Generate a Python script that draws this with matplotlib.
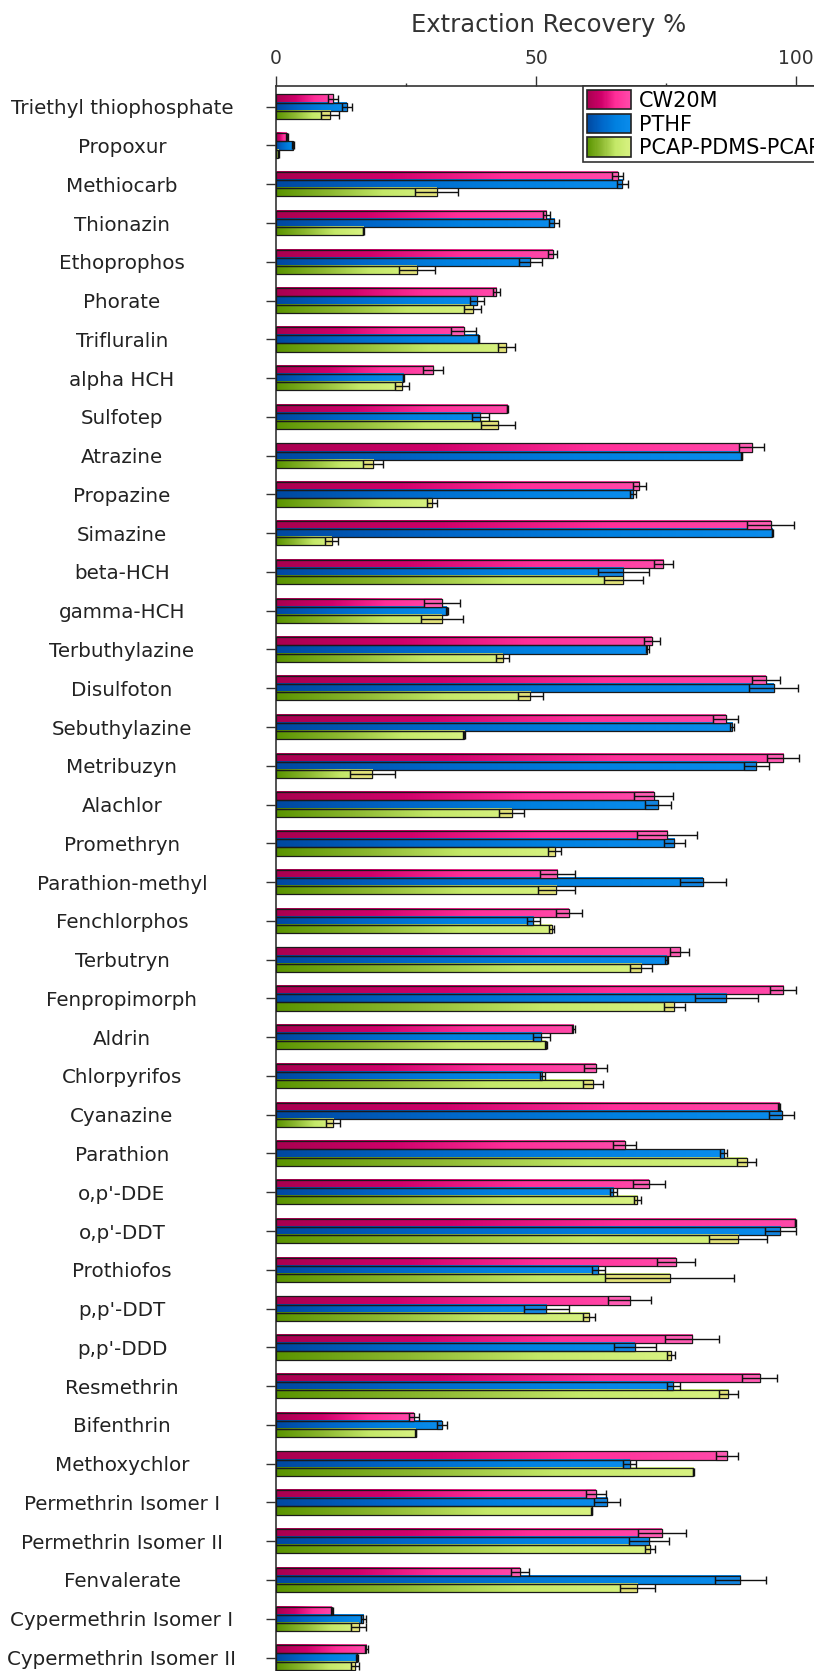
import numpy as np
import matplotlib
matplotlib.use('Agg')
import matplotlib.pyplot as plt
from matplotlib.colors import LinearSegmentedColormap
from matplotlib.patches import Rectangle
from matplotlib.legend_handler import HandlerBase

# recovery data (mean %, error %) for the three fibre coatings
compounds = ["Triethyl thiophosphate", "Propoxur", "Methiocarb", "Thionazin", "Ethoprophos",
             "Phorate", "Trifluralin", "alpha HCH", "Sulfotep", "Atrazine", "Propazine",
             "Simazine", "beta-HCH", "gamma-HCH", "Terbuthylazine", "Disulfoton",
             "Sebuthylazine", "Metribuzyn", "Alachlor", "Promethryn", "Parathion-methyl",
             "Fenchlorphos", "Terbutryn", "Fenpropimorph", "Aldrin", "Chlorpyrifos",
             "Cyanazine", "Parathion", "o,p'-DDE", "o,p'-DDT", "Prothiofos", "p,p'-DDT",
             "p,p'-DDD", "Resmethrin", "Bifenthrin", "Methoxychlor", "Permethrin Isomer I",
             "Permethrin Isomer II", "Fenvalerate", "Cypermethrin Isomer I",
             "Cypermethrin Isomer II"]

cw20m = [11.0, 2.05, 65.7, 52.0, 53.2, 42.4, 36.1, 30.2, 44.5, 91.5, 69.9, 95.1, 74.5, 31.9,
         72.3, 94.2, 86.5, 97.5, 72.6, 75.2, 54.1, 56.3, 77.6, 97.5, 57.2, 61.5, 96.8, 67.1,
         71.7, 99.9, 76.9, 68.0, 80.0, 93.0, 26.5, 86.8, 61.5, 74.2, 46.9, 10.7, 17.4]
cw20m_err = [1.0, 0.2, 1.0, 0.7, 0.8, 0.7, 2.4, 1.9, 0.1, 2.4, 1.2, 4.6, 1.8, 3.4,
             1.6, 2.7, 2.4, 3.1, 3.8, 5.8, 3.4, 2.5, 1.8, 2.5, 0.3, 2.2, 0.2, 2.2,
             3.1, 0.1, 3.7, 4.1, 5.2, 3.3, 1.0, 2.1, 1.9, 4.6, 1.7, 0.2, 0.3]

pthf = [13.6, 3.3, 66.6, 53.5, 48.9, 38.7, 39.0, 24.5, 39.3, 89.6, 68.7, 95.4, 66.8, 32.8,
        71.4, 95.7, 87.7, 92.4, 73.5, 76.6, 82.1, 49.5, 75.1, 86.6, 51.0, 51.2, 97.3, 86.1,
        64.9, 97.0, 62.0, 52.0, 69.0, 76.4, 31.9, 68.0, 63.7, 71.7, 89.3, 16.8, 15.5]
pthf_err = [1.0, 0.2, 1.0, 1.0, 2.2, 1.3, 0.1, 0.1, 1.6, 0.1, 0.6, 0.1, 4.9, 0.2,
            0.3, 4.7, 0.3, 2.4, 2.5, 2.0, 4.4, 1.3, 0.3, 6.1, 1.6, 0.5, 2.4, 0.7,
            0.7, 3.0, 1.2, 4.3, 4.0, 1.2, 1.0, 1.3, 2.5, 3.8, 4.9, 0.5, 0.2]

pcap = [10.4, 0.4, 30.9, 16.8, 27.1, 37.8, 44.3, 24.2, 42.7, 18.7, 30.0, 10.7, 66.8, 31.9,
        43.6, 48.9, 36.2, 18.5, 45.3, 53.6, 53.9, 53.0, 70.2, 76.6, 51.9, 60.9, 11.0, 90.5,
        69.5, 88.9, 75.7, 60.2, 76.0, 87.0, 26.9, 80.2, 60.7, 71.9, 69.5, 15.9, 15.2]
pcap_err = [1.8, 0.1, 4.1, 0.1, 3.4, 1.6, 1.6, 1.4, 3.2, 1.9, 1.0, 1.3, 3.8, 4.1,
            1.3, 2.4, 0.2, 4.3, 2.4, 1.2, 3.6, 0.5, 2.2, 2.0, 0.2, 1.9, 1.3, 1.9,
            0.7, 5.6, 12.4, 1.2, 0.8, 1.9, 0.1, 0.1, 0.1, 1.0, 3.4, 1.4, 0.8]

series_names = ['CW20M', 'PTHF', 'PCAP-PDMS-PCAP']

# left-to-right shading of each bar, and the lighter fill of the error box
cmaps = [LinearSegmentedColormap.from_list('pink', ['#a8004f', '#d0006a', '#ff2e98', '#ff4aaa']),
         LinearSegmentedColormap.from_list('blue', ['#0048a0', '#0066c8', '#0080e0', '#0a8cec']),
         LinearSegmentedColormap.from_list('green', ['#5a9400', '#8cb830', '#c4e868', '#d8f282'])]
box_colors = ['#ff5cb4', '#1284e0', '#e2e27a']


class GradientHandler(HandlerBase):
    def __init__(self, cmap):
        super().__init__()
        self.cmap = cmap

    def create_artists(self, legend, orig_handle, xdescent, ydescent,
                       width, height, fontsize, trans):
        n = 40
        arts = []
        for i in range(n):
            r = Rectangle((-xdescent + i * width / n, -ydescent), width / n + 0.3, height,
                          facecolor=self.cmap(i / (n - 1)), edgecolor='none', transform=trans)
            arts.append(r)
        arts.append(Rectangle((-xdescent, -ydescent), width, height, fill=False,
                              edgecolor='#222222', lw=1.2, transform=trans))
        return arts


W, H = 814, 1671
fig = plt.figure(figsize=(W / 100, H / 100), dpi=100)

y_top = -0.534
y_bot = 40.6
px_unit = 38.77
ax_h = (y_bot - y_top) * px_unit
ax = fig.add_axes([276 / W, (H - 86 - ax_h) / H, 105 * 5.2 / W, ax_h / H])

y = np.arange(len(compounds))
bh = 0.21
offsets = [-bh, 0, bh]
all_vals = [cw20m, pthf, pcap]
all_errs = [cw20m_err, pthf_err, pcap_err]

for k in range(3):
    vals = np.array(all_vals[k])
    errs = np.array(all_errs[k])
    yy = y + offsets[k]
    bars = ax.barh(yy, vals, height=bh, facecolor='none', edgecolor='#1a1a1a',
                   linewidth=0.9, zorder=3)
    grad = np.linspace(0, 1, 256).reshape(1, -1)
    for b in bars:
        x0, y0 = b.get_x(), b.get_y()
        w, h = b.get_width(), b.get_height()
        ax.imshow(grad, extent=[x0, x0 + w, y0 + h, y0], cmap=cmaps[k],
                  aspect='auto', interpolation='bicubic', zorder=2)
    # inner part of the error bar drawn as a lighter box
    for v, e, yc in zip(vals, errs, yy):
        if e > 0.3:
            ax.add_patch(Rectangle((v - e, yc - bh / 2), e, bh, facecolor=box_colors[k],
                                   edgecolor='#1a1a1a', lw=0.8, zorder=3.5))
    ax.errorbar(vals, yy, xerr=errs, fmt='none', ecolor='#111111', elinewidth=1.0,
                capsize=3, capthick=1.0, zorder=4)

ax.set_xlim(0, 105)
ax.set_ylim(y_bot, y_top)

ax.xaxis.tick_top()
ax.xaxis.set_label_position('top')
ax.set_xticks([0, 50, 100])
ax.set_xticks([25, 75], minor=True)
ax.tick_params(axis='x', which='major', length=7.2, width=1, pad=5.5, labelsize=13.5,
               colors='#333333')
ax.tick_params(axis='x', which='minor', length=2.2, width=1, colors='#333333')
ax.set_xlabel('Extraction Recovery %', fontsize=17.5, color='#333333', labelpad=12.5)

ax.set_yticks(y)
ax.set_yticklabels(compounds, fontsize=14.3, color='#222222')
for t in ax.get_yticklabels():
    t.set_horizontalalignment('center')
ax.tick_params(axis='y', length=7.2, width=1, pad=103.7, colors='#333333')
for t in ax.get_yticklabels():
    t.set_color('#222222')

for s in ['right', 'bottom']:
    ax.spines[s].set_visible(False)
for s in ['left', 'top']:
    ax.spines[s].set_color('#333333')
    ax.spines[s].set_linewidth(1.2)

handles = [Rectangle((0, 0), 1, 1) for _ in range(3)]
leg = ax.legend(handles, series_names, loc='upper left',
                bbox_to_anchor=(582.7 / W, 1 - 86 / H), bbox_transform=fig.transFigure,
                borderaxespad=0, fontsize=15, handlelength=2.12, handleheight=1.06,
                labelspacing=0.14, handletextpad=0.38, borderpad=0.19,
                fancybox=False, framealpha=1, edgecolor='#333333',
                handler_map={h: GradientHandler(c) for h, c in zip(handles, cmaps)})
leg.get_frame().set_linewidth(1.2)
leg.set_zorder(10)

fig.savefig('out.png', dpi=100)
